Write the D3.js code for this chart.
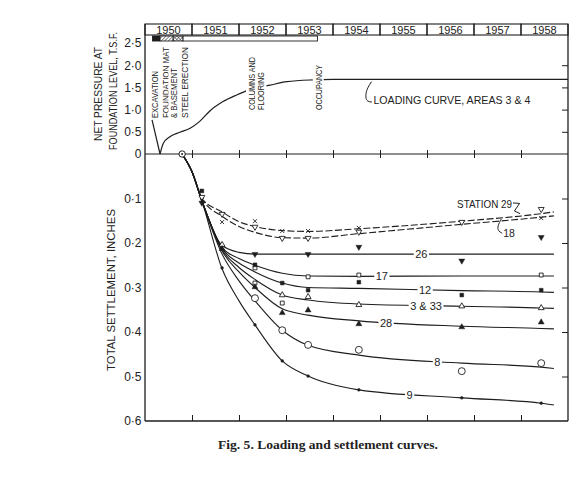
<!DOCTYPE html>
<html>
<head>
<meta charset="utf-8">
<script src="https://cdn.jsdelivr.net/npm/d3@7"></script>
<style>
  body { margin: 0; background: #fff; }
  svg { display: block; }
  text { font-family: "Liberation Sans", Arial, sans-serif; fill: #222; }
</style>
</head>
<body>
<svg id="chart"></svg>
<script>
// Loading and settlement curves, 1950 - 1958
var width = 572
var height = 481

// ---- data ----
var years = [1950, 1951, 1952, 1953, 1954, 1955, 1956, 1957, 1958]
var pressureTicks = [0, 0.5, 1, 1.5, 2, 2.5]
var settlementTicks = [0.1, 0.2, 0.3, 0.4, 0.5, 0.6]

// net pressure at foundation level (t.s.f.)
var loadDates  = [1950.15, 1950.32, 1950.39, 1950.53, 1950.74, 1950.96, 1951.17, 1951.38, 1951.66, 1951.95, 1952.2, 1952.66, 1953.02, 1953.58, 1954.0, 1959.0]
var loadValues = [0.77, 0, 0.24, 0.39, 0.49, 0.58, 0.74, 0.97, 1.18, 1.33, 1.44, 1.55, 1.63, 1.67, 1.68, 1.68]

// construction phases (bar under the year header)
var phaseNames = ['excavation', 'foundation', 'steel', 'building']
var phaseStart = [1950.16, 1950.32, 1950.6, 1950.81]
var phaseEnd   = [1950.32, 1950.6, 1950.81, 1953.67]
var phaseText  = ['EXCAVATION', 'FOUNDATION MAT', '& BASEMENT', 'STEEL ERECTION', 'COLUMNS AND', 'FLOORING', 'OCCUPANCY']

// fitted settlement curves (inches)
var curveDates = [1950.79, 1951.0, 1951.21, 1951.64, 1952.0, 1952.34, 1952.92, 1953.47, 1954.55, 1956.74, 1958.43, 1958.7]
var curve29 = [0, 0.04, 0.1, 0.13, 0.152, 0.163, 0.172, 0.174, 0.168, 0.151, 0.134, 0.13]
var curve18 = [0, 0.04, 0.1, 0.14, 0.163, 0.176, 0.188, 0.189, 0.179, 0.158, 0.142, 0.139]
var curve26 = [0, 0.04, 0.105, 0.205, 0.221, 0.225, 0.225, 0.225, 0.225, 0.225, 0.225, 0.225]
var curve17 = [0, 0.04, 0.105, 0.21, 0.235, 0.25, 0.268, 0.274, 0.275, 0.274, 0.274, 0.274]
var curve12 = [0, 0.04, 0.105, 0.212, 0.245, 0.265, 0.29, 0.3, 0.302, 0.307, 0.31, 0.311]
var curve3and33 = [0, 0.04, 0.105, 0.215, 0.255, 0.282, 0.317, 0.328, 0.337, 0.342, 0.346, 0.347]
var curve28 = [0, 0.04, 0.105, 0.218, 0.265, 0.3, 0.348, 0.362, 0.375, 0.387, 0.392, 0.393]
var curve8  = [0, 0.04, 0.105, 0.225, 0.285, 0.33, 0.396, 0.43, 0.452, 0.47, 0.479, 0.482]
var curve9  = [0, 0.04, 0.105, 0.258, 0.33, 0.384, 0.465, 0.499, 0.53, 0.548, 0.56, 0.564]

// observed settlements at each survey
var surveyDates = [1950.79, 1951.21, 1951.64, 1952.34, 1952.92, 1953.47, 1954.55, 1956.74, 1958.43]
var obs29 = [null, 0.097, 0.135, 0.164, 0.189, 0.189, 0.175, 0.153, 0.124]
var obs18 = [null, 0.103, 0.153, 0.151, 0.173, 0.173, 0.166, null, 0.144]
var obs26 = [null, 0.110, null, 0.225, null, 0.225, 0.209, 0.240, 0.187]
var obs17 = [null, null, null, 0.256, null, 0.276, 0.272, null, 0.272]
var obs12 = [null, 0.083, null, 0.249, 0.290, 0.306, 0.288, 0.317, 0.306]
var obs3  = [null, null, 0.204, null, 0.317, 0.321, 0.339, 0.342, 0.346]
var obs33 = [null, null, null, 0.290, 0.335, null, null, null, null]
var obs28 = [null, null, 0.213, 0.299, 0.357, 0.351, 0.382, 0.389, 0.378]
var obs8  = [null, null, null, 0.324, 0.396, 0.429, 0.440, 0.488, 0.470]
var obs9  = [null, null, 0.256, 0.384, 0.465, 0.499, 0.530, 0.548, 0.560]
var originDate = 1950.79

var ink = '#1e1e1e'

var svg = d3.select('#chart')
  .attr('width', width)
  .attr('height', height)

svg.append('rect').attr('width', width).attr('height', height).attr('fill', '#fff')

var x = d3.scaleLinear().domain([1950, 1959]).range([145, 568])
var yP = d3.scaleLinear().domain([0, 2.5]).range([154, 43])
var yS = d3.scaleLinear().domain([0, 0.6]).range([154, 421])

var headTop = 24
var headH = 11

// fit a text to a measured length
function fit(t, len) {
  t.attr('textLength', len).attr('lengthAdjust', 'spacingAndGlyphs')
  return t
}

// hatch patterns for the phase bar
var defs = svg.append('defs')
var hatch = defs.append('pattern').attr('id', 'hatch')
  .attr('patternUnits', 'userSpaceOnUse').attr('width', 2.5).attr('height', 2.5)
  .attr('patternTransform', 'rotate(45)')
hatch.append('rect').attr('width', 2.5).attr('height', 2.5).attr('fill', '#fff')
hatch.append('line').attr('x1', 0).attr('y1', 0).attr('x2', 0).attr('y2', 2.5)
  .attr('stroke', ink).attr('stroke-width', 1)
var cross = defs.append('pattern').attr('id', 'cross')
  .attr('patternUnits', 'userSpaceOnUse').attr('width', 2.5).attr('height', 2.5)
  .attr('patternTransform', 'rotate(45)')
cross.append('rect').attr('width', 2.5).attr('height', 2.5).attr('fill', '#fff')
cross.append('line').attr('x1', 0).attr('y1', 0).attr('x2', 0).attr('y2', 2.5)
  .attr('stroke', ink).attr('stroke-width', 0.9)
cross.append('line').attr('x1', 0).attr('y1', 0).attr('x2', 2.5).attr('y2', 0)
  .attr('stroke', ink).attr('stroke-width', 0.9)

// ---- year header ----
var head = svg.append('g')
head.selectAll('rect').data(years).enter().append('rect')
  .attr('x', d => x(d))
  .attr('y', headTop)
  .attr('width', d => x(d + 1) - x(d))
  .attr('height', headH)
  .attr('fill', 'none')
  .attr('stroke', ink)
  .attr('stroke-width', 1.1)
head.selectAll('text').data(years).enter().append('text')
  .attr('x', d => x(d + 0.5))
  .attr('y', headTop + 9.5)
  .attr('text-anchor', 'middle')
  .style('font-size', '11px')
  .text(d => d)

// phase bar
var phaseFill = { excavation: ink, foundation: 'url(#hatch)', steel: 'url(#cross)', building: '#fff' }
svg.append('g').selectAll('rect').data(phaseNames).enter().append('rect')
  .attr('x', (d, i) => x(phaseStart[i]))
  .attr('y', 36)
  .attr('width', (d, i) => x(phaseEnd[i]) - x(phaseStart[i]))
  .attr('height', 5)
  .attr('fill', d => phaseFill[d])
  .attr('stroke', ink)
  .attr('stroke-width', 0.9)

// ---- frame ----
var frame = svg.append('g').attr('stroke', ink).attr('stroke-width', 1.3)
frame.append('line').attr('x1', x(1950)).attr('x2', x(1950)).attr('y1', headTop).attr('y2', yS(0.6))
frame.append('line').attr('x1', x(1959)).attr('x2', x(1959)).attr('y1', headTop).attr('y2', yS(0.6))
frame.append('line').attr('x1', x(1950)).attr('x2', x(1959)).attr('y1', yS(0.6)).attr('y2', yS(0.6))
frame.append('line').attr('x1', x(1950)).attr('x2', x(1959)).attr('y1', yS(0)).attr('y2', yS(0))
  .attr('stroke-width', 1)

var fmt = d => d === 0 ? '0' : d3.format('.1f')(d).replace('.', '\u00b7')

function styleAxis(g) {
  g.select('.domain').remove()
  g.selectAll('.tick line').attr('stroke', ink).attr('stroke-width', 1)
  g.selectAll('.tick text').attr('fill', ink)
    .style('font-family', '"Liberation Sans", Arial, sans-serif')
    .style('font-size', '12px')
}

svg.append('g').attr('transform', 'translate(' + x(1950) + ',0)')
  .call(d3.axisLeft(yP).tickValues(pressureTicks).tickSize(0).tickPadding(3.5).tickFormat(fmt))
  .call(styleAxis)
svg.append('g').attr('transform', 'translate(' + x(1950) + ',0)')
  .call(d3.axisLeft(yS).tickValues(settlementTicks).tickSize(0).tickPadding(3.5).tickFormat(fmt))
  .call(styleAxis)

// inward ticks on the right edge
svg.append('g').attr('transform', 'translate(' + x(1959) + ',0)')
  .call(d3.axisRight(yP).tickValues([0.5, 1, 1.5, 2]).tickSize(-6).tickFormat(''))
  .call(styleAxis)
svg.append('g').attr('transform', 'translate(' + x(1959) + ',0)')
  .call(d3.axisRight(yS).tickValues([0.1, 0.2, 0.3, 0.4, 0.5]).tickSize(-6).tickFormat(''))
  .call(styleAxis)

// year ticks across the zero line and up from the bottom
var yearTicks = years.slice(1)
svg.append('g').attr('transform', 'translate(0,' + (yS(0) - 4) + ')')
  .call(d3.axisBottom(x).tickValues(yearTicks).tickSize(8).tickFormat(''))
  .call(styleAxis)
svg.append('g').attr('transform', 'translate(0,' + yS(0.6) + ')')
  .call(d3.axisBottom(x).tickValues(yearTicks).tickSize(-6).tickFormat(''))
  .call(styleAxis)

// axis titles
function vtext(cx, cy, str, size, len) {
  var t = svg.append('text')
    .attr('transform', 'translate(' + cx + ',' + cy + ') rotate(-90)')
    .attr('text-anchor', 'middle')
    .style('font-size', size + 'px')
    .text(str)
  return fit(t, len)
}
vtext(101.5, 94, 'NET PRESSURE AT', 10.5, 94)
vtext(117, 91, 'FOUNDATION LEVEL, T.S.F.', 10.5, 118)
vtext(115, 290, 'TOTAL SETTLEMENT, INCHES', 11, 162)

// ---- loading curve ----
var loadPts = loadDates.map((d, i) => [d, loadValues[i]])
var pline = d3.line().x(d => x(d[0])).y(d => yP(d[1]))
svg.append('path').datum(loadPts.slice(0, 2))
  .attr('d', pline).attr('fill', 'none').attr('stroke', ink).attr('stroke-width', 1.2)
svg.append('path').datum(loadPts.slice(1))
  .attr('d', pline.curve(d3.curveMonotoneX)).attr('fill', 'none').attr('stroke', ink).attr('stroke-width', 1.2)

// rotated phase labels (white box behind, breaks the curve)
var phaseLabelX = [1950.21, 1950.45, 1950.62, 1950.84, 1952.27, 1952.47, 1953.69]
var phaseLabelBase = [0.81, 0.81, 0.81, 0.81, 0.99, 0.99, 0.99]
var phaseLabelLen = [47, 71, 50, 71, 53, 38, 45]
phaseText.forEach(function (str, i) {
  var g = svg.append('g')
    .attr('transform', 'translate(' + (x(phaseLabelX[i]) + 3.3) + ',' + yP(phaseLabelBase[i]) + ') rotate(-90)')
  var bg = g.append('rect').attr('fill', '#fff')
  var t = g.append('text').attr('x', 0).attr('y', 0)
    .style('font-size', '9px')
    .text(str)
  fit(t, phaseLabelLen[i])
  var b = t.node().getBBox()
  bg.attr('x', -1).attr('y', b.y - 1).attr('width', phaseLabelLen[i] + 2).attr('height', b.height + 1)
})

// loading curve label with leader
var loadLeader = [[1954.82, 1.63], [1954.71, 1.45], [1954.69, 1.27], [1954.73, 1.18], [1954.83, 1.17]]
svg.append('path').datum(loadLeader)
  .attr('d', d3.line().x(d => x(d[0])).y(d => yP(d[1])).curve(d3.curveBasis))
  .attr('fill', 'none').attr('stroke', ink).attr('stroke-width', 1)
fit(svg.append('text').attr('x', x(1954.86)).attr('y', yP(1.13))
  .style('font-size', '11px')
  .text('LOADING CURVE, AREAS 3 & 4'), 157)

// ---- settlement curves ----
var curves = [
  { name: '29', values: curve29, dash: '7,2.5' },
  { name: '18', values: curve18, dash: '7,2.5' },
  { name: '26', values: curve26 },
  { name: '17', values: curve17 },
  { name: '12', values: curve12 },
  { name: '3 & 33', values: curve3and33 },
  { name: '28', values: curve28 },
  { name: '8', values: curve8 },
  { name: '9', values: curve9 }
]
var sline = d3.line()
  .x(d => x(d[0]))
  .y(d => yS(d[1]))
  .curve(d3.curveMonotoneX)

var paths = {}
curves.forEach(function (c) {
  var p = svg.append('path')
    .datum(curveDates.map((d, i) => [d, c.values[i]]))
    .attr('d', sline)
    .attr('fill', 'none')
    .attr('stroke', ink)
    .attr('stroke-width', 1.1)
  if (c.dash) p.attr('stroke-dasharray', c.dash)
  paths[c.name] = p.node()
})

function yAtX(node, px) {
  var lo = 0, hi = node.getTotalLength()
  for (var k = 0; k < 30; k++) {
    var mid = (lo + hi) / 2
    if (node.getPointAtLength(mid).x < px) lo = mid; else hi = mid
  }
  return node.getPointAtLength(lo).y
}

// in-line curve labels
var lineLabelNames = ['26', '17', '12', '3 & 33', '28', '8', '9']
var lineLabelAt = [1955.88, 1955.04, 1955.96, 1955.98, 1955.13, 1956.22, 1955.63]
lineLabelNames.forEach(function (n, i) {
  var px = x(lineLabelAt[i])
  var py = yAtX(paths[n], px)
  var bg = svg.append('rect').attr('fill', '#fff')
  var t = svg.append('text')
    .attr('x', px).attr('y', py + 4)
    .attr('text-anchor', 'middle')
    .style('font-size', '11px')
    .text(n)
  var b = t.node().getBBox()
  bg.attr('x', b.x - 1.5).attr('y', py - 2).attr('width', b.width + 3).attr('height', 4)
})

// station 29 / 18 labels with leaders
fit(svg.append('text').attr('x', x(1957.81)).attr('y', yS(0.121))
  .attr('text-anchor', 'end')
  .style('font-size', '10.5px')
  .text('STATION 29'), 55)
svg.append('text').attr('x', x(1957.62)).attr('y', yS(0.186))
  .style('font-size', '10.5px')
  .text('18')
var leader29 = [[1957.83, 0.110], [1957.97, 0.111], [1957.86, 0.128], [1957.98, 0.134]]
var leader18 = [[1957.58, 0.146], [1957.5, 0.162], [1957.51, 0.173], [1957.6, 0.178]]
var lline = d3.line().x(d => x(d[0])).y(d => yS(d[1]))
svg.append('path').datum(leader29).attr('d', lline)
  .attr('fill', 'none').attr('stroke', ink).attr('stroke-width', 1)
svg.append('path').datum(leader18).attr('d', lline.curve(d3.curveBasis))
  .attr('fill', 'none').attr('stroke', ink).attr('stroke-width', 1)

// ---- observation markers ----
var triUp = d3.symbolTriangle
var timesType = d3.symbolTimes || d3.symbolCross
var markerSets = [
  { values: obs29, type: triUp, size: 15, open: true, rot: 180 },
  { values: obs18, type: timesType, size: 12, open: true, rot: d3.symbolTimes ? 0 : 45 },
  { values: obs26, type: triUp, size: 15, open: false, rot: 180 },
  { values: obs17, type: d3.symbolSquare, size: 15, open: true },
  { values: obs12, type: d3.symbolSquare, size: 14, open: false },
  { values: obs3, type: triUp, size: 15, open: true },
  { values: obs33, type: d3.symbolSquare, size: 15, open: true },
  { values: obs28, type: triUp, size: 15, open: false },
  { values: obs8, type: d3.symbolCircle, size: 38, open: true },
  { values: obs9, type: d3.symbolCircle, size: 6, open: false }
]
markerSets.forEach(function (m) {
  var pts = surveyDates.map((d, i) => [d, m.values[i]]).filter(d => d[1] !== null)
  svg.append('g').selectAll('path').data(pts).enter().append('path')
    .attr('d', d3.symbol().type(m.type).size(m.size))
    .attr('transform', d => 'translate(' + x(d[0]) + ',' + yS(d[1]) + ')' + (m.rot ? ' rotate(' + m.rot + ')' : ''))
    .attr('fill', m.open && m.type !== timesType ? '#fff' : ink)
    .attr('stroke', ink)
    .attr('stroke-width', m.open ? 0.9 : 0.5)
})

// common origin of all curves
svg.append('circle').attr('cx', x(originDate)).attr('cy', yS(0)).attr('r', 3.2)
  .attr('fill', '#fff').attr('stroke', ink).attr('stroke-width', 1)
svg.append('circle').attr('cx', x(originDate)).attr('cy', yS(0)).attr('r', 1)
  .attr('fill', ink)

// caption
fit(svg.append('text')
  .attr('x', 328).attr('y', 449)
  .attr('text-anchor', 'middle')
  .style('font-family', '"Liberation Serif", "Times New Roman", serif')
  .style('font-weight', 'bold')
  .style('font-size', '12.5px')
  .text('Fig. 5. Loading and settlement curves.'), 220)
</script>
</body>
</html>
